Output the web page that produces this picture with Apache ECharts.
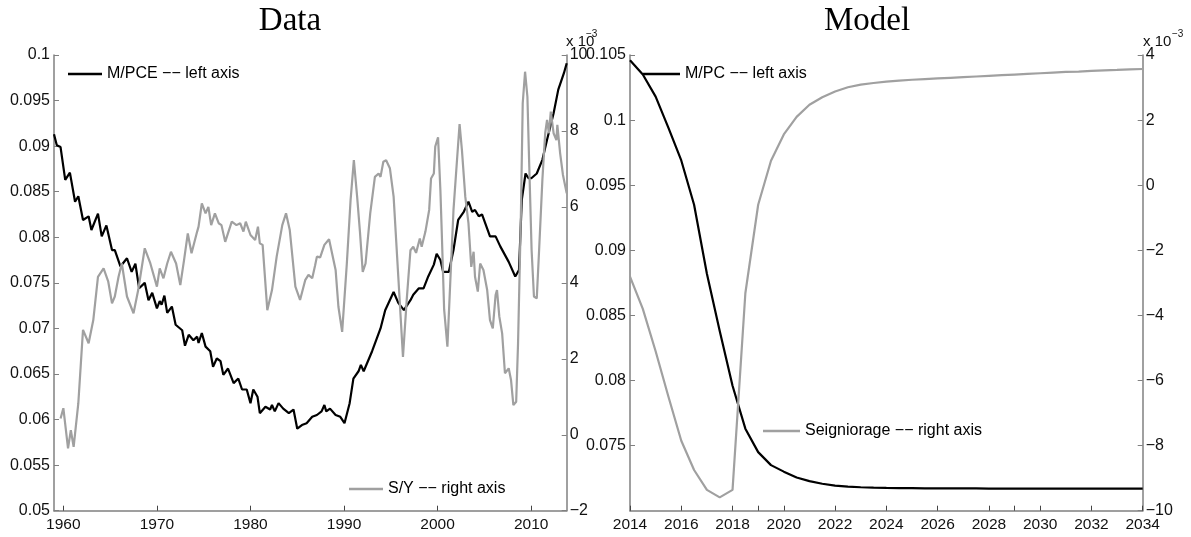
<!DOCTYPE html>
<html>
<head>
<meta charset="utf-8">
<script src="https://cdn.jsdelivr.net/npm/echarts@6/dist/echarts.min.js"></script>
<style>
html,body{margin:0;padding:0;background:#fff;}
#chart{width:1191px;height:537px;}
</style>
</head>
<body>
<div id="chart"></div>
<script>
// ---------- DATA ----------
const dataXTicks = [1960, 1970, 1980, 1990, 2000, 2010];
const modelXTicks = [2014, 2016, 2018, 2020, 2022, 2024, 2026, 2028, 2030, 2032, 2034];
const modelExtraTicks = [2019, 2029];

const mpceYears = [1959.0,1959.3,1959.7,1960.2,1960.7,1961.25,1961.6,1962.1,1962.7,1963.0,1963.7,1964.1,1964.6,1965.2,1965.5,1966.1,1966.8,1967.3,1967.7,1968.1,1968.7,1969.1,1969.5,1970.0,1970.3,1970.5,1970.8,1971.1,1971.6,1972.0,1972.7,1973.0,1973.4,1973.9,1974.3,1974.45,1974.8,1975.2,1975.7,1976.0,1976.4,1976.8,1977.1,1977.6,1978.2,1978.7,1979.1,1979.6,1980.0,1980.3,1980.75,1981.0,1981.6,1982.1,1982.3,1982.6,1983.0,1983.5,1984.1,1984.6,1985.0,1985.5,1986.0,1986.6,1987.1,1987.6,1987.9,1988.1,1988.5,1989.1,1989.6,1990.05,1990.6,1991.0,1991.55,1991.8,1992.1,1993.0,1993.9,1994.4,1995.3,1995.8,1996.4,1997.1,1997.4,1998.0,1998.5,1999.0,1999.6,1999.9,2000.3,2000.6,2001.2,2001.7,2002.2,2002.8,2003.3,2003.7,2004.0,2004.4,2004.75,2005.6,2006.2,2006.7,2007.6,2008.3,2008.7,2009.0,2009.4,2009.7,2010.05,2010.6,2011.2,2011.7,2012.4,2012.9,2013.5,2013.8];
const mpceValues = [0.0913,0.0901,0.0899,0.0863,0.0871,0.0839,0.0845,0.0819,0.0823,0.0808,0.0826,0.0801,0.0813,0.0786,0.0786,0.0768,0.0777,0.0762,0.0771,0.0744,0.0750,0.0731,0.0739,0.0722,0.0730,0.0726,0.0736,0.0717,0.0724,0.0704,0.0698,0.0681,0.0693,0.0687,0.0691,0.0684,0.0695,0.0680,0.0675,0.0658,0.0667,0.0664,0.0649,0.0656,0.0640,0.0645,0.0633,0.0633,0.0618,0.0633,0.0625,0.0607,0.0614,0.0611,0.0616,0.0609,0.0618,0.0612,0.0607,0.0611,0.0590,0.0594,0.0596,0.0603,0.0605,0.0609,0.0616,0.0609,0.0612,0.0605,0.0603,0.0596,0.0618,0.0645,0.0653,0.0660,0.0653,0.0675,0.0700,0.0720,0.0740,0.0728,0.0720,0.0731,0.0737,0.0744,0.0744,0.0757,0.0770,0.0782,0.0775,0.0762,0.0762,0.0786,0.0819,0.0828,0.0839,0.0828,0.0830,0.0823,0.0825,0.0801,0.0801,0.0790,0.0773,0.0757,0.0764,0.0841,0.0870,0.0865,0.0865,0.0870,0.0885,0.0907,0.0936,0.0962,0.0980,0.0991];

const syYears = [1959.7,1960.0,1960.5,1960.8,1961.1,1961.6,1962.1,1962.7,1963.2,1963.7,1964.3,1964.8,1965.2,1965.5,1965.9,1966.25,1966.8,1967.5,1968.0,1968.7,1969.3,1970.0,1970.3,1970.7,1971.1,1971.5,1972.05,1972.5,1972.9,1973.3,1973.7,1974.3,1974.45,1974.8,1975.2,1975.5,1975.8,1976.2,1976.6,1976.9,1977.3,1978.0,1978.5,1978.9,1979.25,1979.5,1980.0,1980.5,1980.8,1981.0,1981.3,1981.8,1982.3,1982.8,1983.4,1983.8,1984.2,1984.8,1985.3,1985.85,1986.2,1986.6,1986.9,1987.1,1987.45,1987.9,1988.4,1988.6,1989.1,1989.4,1989.8,1990.3,1990.7,1991.05,1991.4,1991.7,1992.0,1992.3,1992.8,1993.3,1993.7,1993.9,1994.2,1994.5,1994.9,1995.3,1995.8,1996.3,1996.7,1997.1,1997.4,1997.7,1998.1,1998.3,1998.7,1999.1,1999.3,1999.6,1999.75,2000.05,2000.3,2000.45,2000.7,2001.05,2001.35,2001.7,2002.1,2002.35,2002.6,2002.96,2003.3,2003.6,2003.85,2004.0,2004.3,2004.55,2004.9,2005.3,2005.6,2005.9,2006.2,2006.35,2006.6,2006.9,2007.2,2007.6,2007.85,2008.1,2008.4,2008.6,2008.9,2009.1,2009.35,2009.6,2009.8,2010.05,2010.3,2010.6,2010.85,2011.2,2011.5,2011.7,2011.9,2012.1,2012.4,2012.7,2012.8,2013.1,2013.4,2013.6,2013.8];
const syValues = [0.43,0.70,-0.36,0.12,-0.32,0.83,2.76,2.41,3.02,4.16,4.38,4.03,3.46,3.64,4.16,4.51,3.64,3.20,3.81,4.91,4.51,3.90,4.38,4.12,4.51,4.82,4.51,3.94,4.60,5.30,4.78,5.35,5.48,6.09,5.83,6.00,5.52,5.83,5.57,5.52,5.08,5.61,5.52,5.57,5.35,5.61,5.26,5.13,5.48,5.04,5.00,3.28,3.81,4.69,5.52,5.83,5.39,3.90,3.55,4.07,4.21,4.12,4.45,4.69,4.67,5.00,5.15,5.13,4.34,3.37,2.71,4.51,6.18,7.23,6.27,5.35,4.29,4.51,5.83,6.79,6.88,6.79,7.19,7.23,7.02,6.27,4.16,2.05,3.55,4.86,4.95,4.79,5.17,4.95,5.35,5.92,6.75,6.88,7.59,7.83,6.44,5.30,3.30,2.32,3.99,5.92,7.32,8.18,7.50,6.27,5.57,4.42,4.82,4.16,3.77,4.51,4.34,3.81,3.02,2.80,3.68,3.81,3.11,2.67,1.62,1.75,1.44,0.78,0.87,2.41,5.74,8.73,9.56,8.90,7.06,4.86,3.64,3.59,4.86,6.71,7.94,8.29,7.94,8.51,7.94,7.76,8.16,7.41,6.84,6.84,6.36];

const modelYears = [2014,2014.5,2015,2015.5,2016,2016.5,2017,2017.5,2018,2018.5,2019,2019.5,2020,2020.5,2021,2021.5,2022,2022.5,2023,2023.5,2024,2024.5,2025,2025.5,2026,2026.5,2027,2027.5,2028,2028.5,2029,2029.5,2030,2030.5,2031,2031.5,2032,2032.5,2033,2033.5,2034];
const mpcValues = [0.1046,0.1035,0.1018,0.0994,0.0969,0.0935,0.0882,0.0838,0.0796,0.0763,0.0745,0.0735,0.0730,0.07255,0.07227,0.07207,0.07193,0.07185,0.07180,0.07177,0.07175,0.07174,0.07173,0.07172,0.07172,0.07171,0.07171,0.07171,0.07170,0.07170,0.07170,0.07170,0.07170,0.07170,0.07170,0.07170,0.07170,0.07170,0.07170,0.07170,0.07170];
const seignValues = [-2.81,-3.80,-5.10,-6.50,-7.85,-8.75,-9.36,-9.59,-9.36,-3.32,-0.60,0.75,1.56,2.10,2.47,2.70,2.88,3.01,3.09,3.14,3.18,3.21,3.24,3.26,3.28,3.30,3.32,3.34,3.36,3.38,3.40,3.42,3.44,3.46,3.48,3.49,3.51,3.53,3.54,3.56,3.57];

const names = ['M/PCE \u2212\u2212 left axis', 'S/Y \u2212\u2212 right axis', 'M/PC \u2212\u2212 left axis', 'Seigniorage \u2212\u2212 right axis'];

// ---------- CHART ----------
const zip = (xs, ys) => xs.map((x, i) => [x, ys[i]]);
const FONT = 'Liberation Sans, Arial, sans-serif';
const AXIS_GRAY = '#808080';
const BLACK = '#000000';
const GRAY = '#a0a0a0';
const fmtNum = v => {
  const r = +(+v).toFixed(4);
  return r < 0 ? '\u2212' + String(-r) : String(r);
};

const chart = echarts.init(document.getElementById('chart'), null, {renderer: 'canvas'});

const yCommon = (gridIndex, position, min, max, interval, hideMin) => ({
  type: 'value', gridIndex, position, min, max, interval,
  axisLine: {show: true, lineStyle: {color: AXIS_GRAY, width: 1.5}},
  axisTick: {show: true, inside: true, length: 5, lineStyle: {color: AXIS_GRAY}},
  splitLine: {show: false},
  axisLabel: {
    margin: position === 'left' ? 4 : 3,
    color: '#111', fontSize: 16, fontFamily: FONT,
    showMinLabel: !hideMin,
    formatter: fmtNum
  }
});

const xCommon = (gridIndex, min, max, labelVals, tickVals) => ({
  type: 'value', gridIndex, min, max,
  axisLine: {show: true, onZero: false, lineStyle: {color: AXIS_GRAY, width: 1.5}},
  axisTick: {show: true, inside: true, length: 5, customValues: tickVals, lineStyle: {color: '#444'}},
  splitLine: {show: false},
  axisLabel: {
    margin: 6, color: '#111', fontSize: 15.5, fontFamily: FONT,
    customValues: labelVals,
    formatter: v => String(v)
  }
});

const legendCommon = (name, left, top, w) => ({
  data: [name], left, top, padding: 0, orient: 'horizontal',
  icon: 'rect', itemWidth: w, itemHeight: 2.5, selectedMode: false,
  textStyle: {fontSize: 16, fontFamily: FONT, color: '#000'}
});

const option = {
  animation: false,
  backgroundColor: '#ffffff',
  grid: [
    {left: 54, right: 1191 - 566.7, top: 55, bottom: 537 - 510.7, containLabel: false},
    {left: 630, right: 1191 - 1142.7, top: 55, bottom: 537 - 510.7, containLabel: false}
  ],
  xAxis: [
    xCommon(0, 1959, 2013.8, dataXTicks, dataXTicks),
    xCommon(1, 2014, 2034, modelXTicks, modelXTicks.concat(modelExtraTicks))
  ],
  yAxis: [
    yCommon(0, 'left', 0.05, 0.1, 0.005, false),
    yCommon(0, 'right', -2, 10, 2, false),
    yCommon(1, 'left', 0.07, 0.105, 0.005, true),
    yCommon(1, 'right', -10, 4, 2, false)
  ],
  legend: [
    legendCommon(names[0], 68, 66, 34),
    legendCommon(names[1], 349, 481, 34),
    legendCommon(names[2], 643, 66, 37),
    legendCommon(names[3], 763, 423, 37)
  ],
  series: [
    {name: names[0], type: 'line', xAxisIndex: 0, yAxisIndex: 0, data: zip(mpceYears, mpceValues),
     showSymbol: false, symbol: 'none', color: BLACK, lineStyle: {color: BLACK, width: 2.2}, z: 2},
    {name: names[1], type: 'line', xAxisIndex: 0, yAxisIndex: 1, data: zip(syYears, syValues),
     showSymbol: false, symbol: 'none', color: GRAY, lineStyle: {color: GRAY, width: 2.2}, z: 3},
    {name: names[2], type: 'line', xAxisIndex: 1, yAxisIndex: 2, data: zip(modelYears, mpcValues),
     showSymbol: false, symbol: 'none', color: BLACK, lineStyle: {color: BLACK, width: 2.2}, z: 2},
    {name: names[3], type: 'line', xAxisIndex: 1, yAxisIndex: 3, data: zip(modelYears, seignValues),
     showSymbol: false, symbol: 'none', color: GRAY, lineStyle: {color: GRAY, width: 2.2}, z: 3}
  ],
  graphic: [
    {type: 'text', x: 290, y: 5, style: {text: 'Data', font: '33px "Liberation Serif", serif', fill: '#000', align: 'center', textAlign: 'center', verticalAlign: 'top', textVerticalAlign: 'top'}},
    {type: 'text', x: 867, y: 5, style: {text: 'Model', font: '33px "Liberation Serif", serif', fill: '#000', align: 'center', textAlign: 'center', verticalAlign: 'top', textVerticalAlign: 'top'}},
    {type: 'text', x: 566, y: 34, style: {text: 'x 10', font: '15px "Liberation Sans", Arial, sans-serif', fill: '#111', verticalAlign: 'top', textVerticalAlign: 'top'}},
    {type: 'text', x: 586, y: 29, style: {text: '\u22123', font: '10px "Liberation Sans", Arial, sans-serif', fill: '#111', verticalAlign: 'top', textVerticalAlign: 'top'}},
    {type: 'text', x: 1143, y: 34, style: {text: 'x 10', font: '15px "Liberation Sans", Arial, sans-serif', fill: '#111', verticalAlign: 'top', textVerticalAlign: 'top'}},
    {type: 'text', x: 1172, y: 29, style: {text: '\u22123', font: '10px "Liberation Sans", Arial, sans-serif', fill: '#111', verticalAlign: 'top', textVerticalAlign: 'top'}}
  ]
};
chart.setOption(option);
</script>
</body>
</html>
